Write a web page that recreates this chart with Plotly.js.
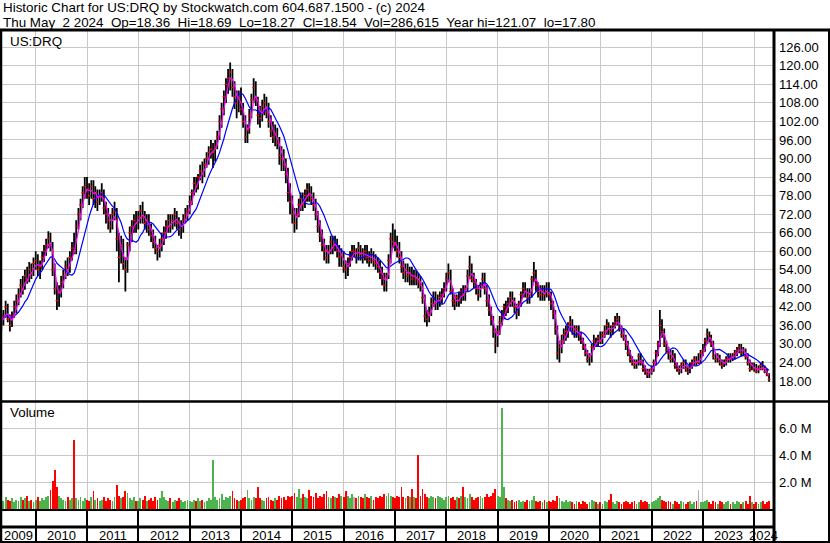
<!DOCTYPE html>
<html><head><meta charset="utf-8">
<script src="https://cdn.plot.ly/plotly-3.0.1.min.js"></script>
<style>html,body{margin:0;padding:0;background:#fff;}#chart{width:830px;height:543px;}</style>
</head><body><div id="chart"></div>
<script>
// ---- data (semi-monthly bars: 1st and 16th of each month, May 2009 .. Apr 2024) ----
const startYear = 2009, startMonth = 5;
const open = [
 36,37,39,42,38,36,39,42,44,46,49,48,52,51,54,53,
 56,57,54,55,58,60,62,64,62,54,48,44,47,50,52,55,54,58,62,60,68,72,75,79,
 81,80,78,81,77,79,76,78,79,74,72,70,68,72,73,64,58,62,56,54,62,66,68,70,
 69,71,73,71,69,70,67,65,63,61,60,62,64,66,68,70,68,70,72,69,67,68,70,72,
 73,76,79,82,81,84,86,85,88,90,92,90,92,94,97,102,106,110,114,116,118,113,110,108,
 110,106,102,97,99,104,109,113,109,104,103,107,108,105,102,99,97,98,95,91,90,88,85,79,
 76,72,69,72,75,77,75,78,80,78,77,75,72,68,65,62,60,58,60,63,61,63,60,58,
 59,55,54,56,58,60,60,58,61,59,58,60,58,57,59,57,56,55,53,51,49,52,57,64,
 63,62,60,58,55,53,54,52,53,51,52,51,50,49,45,39,38,40,43,45,43,44,45,46,
 48,51,53,47,44,43,45,44,47,46,48,52,55,51,50,48,46,49,51,48,44,41,38,34,
 30,34,37,39,42,41,43,45,44,42,40,43,46,48,47,45,46,51,53,49,47,46,47,46,
 48,46,43,40,35,27,29,31,33,34,36,37,34,33,35,33,31,29,27,25,26,29,31,30,
 32,31,33,34,36,35,34,36,37,38,35,33,32,30,27,25,24,23,24,26,24,22,21,20,
 21,22,24,27,30,36,34,30,28,27,25,26,23,22,21,23,24,22,21,23,24,25,24,24,
 27,28,31,33,32,30,26,25,26,24,23,24,25,26,25,26,27,28,29,27,28,26,24,22,
 23,22,21,22,23,22,21,20
];
const high = [
 40,41,44,43,39.5,40.5,44,46,48,51,52,54,55,56.5,56,58,
 60,59,57,60,62,64,66.5,66,63,56,50,49,52,54,57,58,60,63,66,70,74,77,81,84,
 84,82,83,83,81,80,80,82,80,76,74,72,74,76,74,66,65,64,58,63,68,70,72,73,
 73,75,76,73,72,72,69,67,65,62,64,66,68,70,72,72,72,74,73,71,70,72,74,75,
 78,80,84,84,85,88,89,90,92,94,96,95,96,99,104,108,112,116,119,121.07,119,115,112,112,
 113,108,104,101,106,111,116,115,110,107,109,111,110,108,104,102,101,100,97,94,93,90,87,82,
 78,74,74,77,79,79,80,82,82,81,79,77,73,70,67,64,62,62,65,65,65,64,62,61,
 60,57,58,60,62,62,61,63,62,61,62,62,60,61,60,59,58,57,55,53,53,59,66,69,
 67,65,63,60,57,56,56,55,55,54,54,53,52,50,46,41,42,45,47,47,46,47,48,50,
 53,56,54,48,46,46,47,48,49,49,54,58.5,56,53,51,49,50,53,53,49,46,42,39,35,
 36,39,41,43,44,45,47,47,45,43,44,47,50,50,48,48,52,56.5,54,50,49,49,49,50,
 50,47,44,41,36,31,33,35,36,37,39,38,36,36,36,34,32,30,28,27,30,33,32,33,
 34,34,36,38,37,36,37,39,40,39,36,35,33,31,28,26,25,25,27,27,25,23,22,22,
 23,25,28,31,41,38,35,31,29,28,28,27,24,23,24,25,25,23,24,25,26,26,27,28,
 30,32,35,34,33,31,27,27,26.5,25,25,26,27,27,27,28,29,30,30,29,28.5,27,25,24,
 24,23.5,23,24,24.5,23,22,20.5
];
const low = [
 34.5,36,38.5,37,34,35.5,38.5,40,42.5,45,46,47.5,49.5,50,51,52,
 54,52,51,54,56.5,58.5,61,60,52,46,41,42,45,48,51,52,53,57,59,59,67,70,74,77,
 77,75,77,75,74,73,75,76,72,69,67,66,67,70,60,50,56,54,47,53,60,63,66,66,
 67,69,69,67,66,65,63,61,59,57,58,60,62,64,66,66,67,68,67,65,64,66,69,70,
 72,75,78,79,80,83,82,84,87,88,90,87,89,93,96,100,104,108,111,112,110,106,103,105,
 104,100,95,95,98,103,108,107,101,100,102,104,103,100,97,95,94,93,88,86,86,82,76,72,
 69,66,67,71,73,73,74,76,76,75,73,70,66,63,60,57,56,56,59,59,60,58,55,55,
 53,51,52,55,57,58,56,57,57,56,57,56,55,56,55,54,53,51,49,47,47,51,56,61,
 60,58,56,53,51,50,50,49,49,49,49,48,47,43,37,35.6,37,39,42,41,41,42,43,45,
 47,50,46,42,41,42,42,43,44,44,47,51,50,48,46,44,45,48,46,42,39,36,32,27,
 29,33,36,38,39,40,42,42,40,38,39,42,45,45,43,43,45,50,47,45,44,44,44,45,
 44,41,38,33,25,24,27,30,31,32,34,33,32,32,31,30,28,26,24,23,24,28,29,29,
 30,30,32,33,33,32,33,35,36,34,32,31,28,26,24,23,22,22,23,23,21,20,19,19,
 20,21,23,26,29,32,29,27,25,24,24,22,21,20,20.5,22,21,20,20.5,22,23,23,23.5,23.5,
 26,27.5,30,30.5,29,25,24,24,23,22,22.5,23,24,24,24.5,25,26,27,26,26,25,23,21,21.5,
 21,20.5,20.5,21.5,21.5,20.5,19.5,17.8
];
const close = [
 37,39,42,38,36,39,42,44,46,49,48,52,51,54,53,56,
 57,54,55,58,60,62,64,62,54,48,44,47,50,52,55,54,58,61,60,68,72,75,79,81,
 80,78,81,77,79,76,78,79,74,72,70,68,72,73,64,58,62,56,54,62,66,68,70,69,
 71,73,71,69,70,67,65,63,61,60,62,64,66,68,70,68,70,72,69,67,68,70,72,73,
 76,79,82,81,84,86,85,88,90,92,93,92,94,97,102,106,110,114,116,118,113,110,108,110,
 106,102,97,99,104,109,113,109,104,103,107,108,105,102,99,97,98,95,91,90,88,85,79,76,
 72,69,72,75,77,75,78,80,78,77,75,72,68,65,62,60,58,60,63,61,63,60,58,59,
 55,54,56,58,60,60,58,61,59,58,60,58,57,59,57,56,55,53,51,49,52,57,64,63,
 62,60,58,55,53,54,52,53,51,52,51,50,49,45,39,38,40,43,45,43,44,45,46,48,
 51,53,47,44,43,45,44,47,46,48,52,55,51,50,48,46,49,51,48,44,41,38,34,30,
 34,37,39,42,41,43,45,44,42,40,43,46,48,47,45,46,51,53,49,47,46,47,46,48,
 46,43,40,35,27,29,31,33,34,36,37,34,33,35,33,31,29,27,25,26,29,31,30,32,
 31,33,34,36,35,34,36,37,38,35,33,32,30,27,25,24,23,24,26,24,22,21,20,21,
 22,24,27,30,36,34,30,28,27,25,26,23,22,21,23,24,22,21,23,24,25,24,24,27,
 28,31,33,32,30,26,25,26,24,23,24,25,26,25,26,27,28,29,27,28,26,24,22,23,
 22,21,22,23,22,21,20,18.54
];
// volume, millions of shares
const volume = [
 0.8,0.6,0.9,0.7,0.6,0.8,0.5,0.7,0.6,0.9,0.7,0.8,1.0,0.6,0.7,0.5,
 0.7,0.9,0.6,0.8,0.7,0.9,1.0,1.4,2.1,2.9,1.6,1.0,0.8,0.7,0.6,0.9,0.7,0.8,5.1,0.8,0.7,0.9,0.6,0.8,
 0.7,0.6,0.9,1.3,0.7,0.8,0.6,0.7,0.9,0.6,0.8,0.7,0.6,0.9,1.8,1.0,0.8,0.9,1.3,1.2,0.8,0.7,0.9,0.6,
 0.6,0.8,0.7,1.0,0.6,0.7,0.8,0.6,0.9,0.7,0.8,1.3,0.9,0.7,0.6,0.8,0.5,0.7,0.6,0.8,0.7,0.5,0.6,0.7,
 0.6,0.5,0.7,0.6,0.8,0.6,0.7,0.5,0.6,0.8,0.7,3.6,0.9,0.7,0.8,1.1,0.7,0.9,0.8,1.0,1.3,0.8,0.7,0.6,
 0.7,0.8,0.9,1.4,0.8,0.7,0.9,0.8,1.6,0.8,0.7,0.6,0.8,0.9,0.7,0.6,0.8,0.7,1.0,0.8,0.9,0.7,1.0,0.9,
 1.0,1.2,0.9,1.5,0.8,1.1,0.9,0.8,1.4,1.0,0.9,1.2,0.8,1.0,0.9,1.1,1.3,0.9,0.8,1.0,0.9,0.8,1.1,1.0,
 0.9,1.3,1.0,0.8,1.1,0.9,0.8,1.0,0.9,0.8,1.1,0.9,0.8,1.0,0.7,0.9,0.8,1.0,0.9,1.1,1.0,1.2,1.0,0.9,
 0.8,1.0,0.9,1.6,0.9,0.8,1.0,0.9,1.5,0.9,0.8,4.0,1.0,1.5,1.1,0.9,0.8,1.0,0.9,0.8,1.0,0.9,0.8,0.7,
 0.9,1.0,0.8,0.9,0.7,0.9,0.8,1.0,1.6,0.9,0.8,1.1,0.9,0.7,0.8,0.9,1.0,0.8,0.9,1.1,0.9,1.0,1.2,1.5,
 1.0,0.9,7.5,1.6,0.8,0.7,0.6,0.7,0.5,0.6,0.7,0.5,0.6,0.5,0.7,0.6,0.7,1.0,0.6,0.5,0.6,0.5,0.7,0.5,
 0.6,0.5,0.7,0.6,1.0,0.8,0.6,0.5,0.7,0.5,0.6,0.5,0.4,0.6,0.5,0.4,0.6,0.5,0.4,0.5,0.7,0.6,0.5,0.4,
 0.5,0.4,0.6,0.5,0.7,1.1,0.5,0.4,0.6,0.5,0.4,0.5,0.6,0.5,0.4,0.5,0.6,0.4,0.5,0.7,0.5,0.6,0.5,0.4,
 0.5,0.6,0.7,0.8,1.0,0.7,0.6,0.5,0.6,0.5,0.4,0.6,0.5,0.4,0.6,0.5,0.4,0.5,0.6,0.4,0.5,0.6,1.4,0.5,
 0.5,0.6,0.7,0.5,0.4,0.6,0.5,0.4,0.6,0.5,0.4,0.5,0.6,0.4,0.5,0.4,0.6,0.5,0.4,0.5,0.6,0.4,1.0,0.5,
 0.4,0.5,0.4,0.5,0.6,0.4,0.5,0.6
];
const years = ['2009','2010','2011','2012','2013','2014','2015','2016','2017','2018','2019','2020','2021','2022','2023','2024'];
const priceTicks = [18,24,30,36,42,48,54,60,66,72,78,84,90,96,102,108,114,120,126];
const volTicks = [2,4,6];
const volTickText = ['2.0 M','4.0 M','6.0 M'];
const headerLine1 = 'Historic Chart for US:DRQ by Stockwatch.com 604.687.1500 - (c) 2024';
const headerLine2 = 'Thu May  2 2024  Op=18.36  Hi=18.69  Lo=18.27  Cl=18.54  Vol=286,615  Year hi=121.07  lo=17.80';
const symbolLabel = 'US:DRQ';
const volumeLabel = 'Volume';

// ---- build ----
const W = 830, H = 543;
const px = x => x / W, py = y => 1 - y / H;
const dates = close.map((_, i) => {
  const m = (startMonth - 1) + Math.floor(i / 2);
  const yr = startYear + Math.floor(m / 12);
  return yr + '-' + String(m % 12 + 1).padStart(2, '0') + '-' + (i % 2 ? '16' : '01');
});
function movingAverage(vals, n) {
  return vals.map((_, i) => {
    const s = vals.slice(Math.max(0, i - n + 1), i + 1);
    return s.reduce((a, b) => a + b, 0) / s.length;
  });
}
const rangeStart = '2009-05-06', rangeEnd = '2024-05-14';
const yearStarts = years.slice(1).map(y => y + '-01-01');
const volColors = close.map((c, i) => c > open[i] ? '#4db34d' : (c < open[i] ? '#ff0000' : '#b4b4b4'));

const traces = [
  {type:'ohlc', x:dates, open:open, high:high, low:low, close:close, xaxis:'x', yaxis:'y',
   increasing:{line:{color:'#000', width:1.8}}, decreasing:{line:{color:'#000', width:1.8}}, tickwidth:0.3, hoverinfo:'skip'},
  {type:'scatter', mode:'markers', x:dates, y:close, xaxis:'x', yaxis:'y', hoverinfo:'skip',
   marker:{symbol:'line-ew', size:2, line:{color:'#ff0000', width:1.2}}},
  {type:'scatter', mode:'lines', x:dates, y:movingAverage(close, 10), xaxis:'x', yaxis:'y', hoverinfo:'skip',
   line:{color:'#0000ff', width:1.2}},
  {type:'scatter', mode:'lines', x:dates, y:movingAverage(close, 3), xaxis:'x', yaxis:'y', hoverinfo:'skip',
   line:{color:'#ff00ff', width:1.2}},
  {type:'bar', x:dates, y:volume, xaxis:'x', yaxis:'y2', hoverinfo:'skip',
   width:13*86400000, marker:{color:volColors, line:{width:0}}}
];

const yearLabelAnn = years.map(y => {
  const s = Math.max(Date.parse(y + '-01-01'), Date.parse(rangeStart));
  const e = Math.min(Date.parse((+y + 1) + '-01-01'), Date.parse(rangeEnd));
  return {xref:'x', yref:'paper', x:new Date((s + e) / 2).toISOString().slice(0, 10), y:py(535),
          text:y, showarrow:false, xanchor:'center', yanchor:'middle', font:{size:13, color:'#000'}};
});
// keep the double spacing of the original header (non-collapsing spaces)
const nb = s => s.replace(/  /g, '\u00a0\u00a0');
const annotations = [
  {xref:'paper', yref:'paper', x:px(1), y:py(8), text:headerLine1, showarrow:false, xanchor:'left', yanchor:'middle', font:{size:13.4, color:'#000'}},
  {xref:'paper', yref:'paper', x:px(1), y:py(22), text:nb(headerLine2), showarrow:false, xanchor:'left', yanchor:'middle', font:{size:13.4, color:'#000'}},
  {xref:'paper', yref:'paper', x:px(8), y:py(41.5), text:symbolLabel, showarrow:false, xanchor:'left', yanchor:'middle', font:{size:13.4, color:'#000'}},
  {xref:'paper', yref:'paper', x:px(8), y:py(413), text:volumeLabel, showarrow:false, xanchor:'left', yanchor:'middle', font:{size:13.4, color:'#000'}}
].concat(yearLabelAnn);

const line = (x0, y0, x1, y1, w) => ({type:'line', xref:'paper', yref:'paper', x0:px(x0), y0:py(y0), x1:px(x1), y1:py(y1), line:{color:'#000', width:w}});
const shapes = [
  line(0, 30, 830, 30, 3),
  line(1, 30, 1, 543, 2.5),
  line(774, 30, 774, 543, 3),
  line(829, 30, 829, 543, 2),
  line(0, 401.5, 830, 401.5, 2.5),
  line(0, 510, 774, 510, 2),
  line(0, 527, 774, 527, 3),
  line(0, 542, 830, 542, 2)
];

const layout = {
  width:W, height:H, margin:{l:0, r:0, t:0, b:0}, paper_bgcolor:'#fff', plot_bgcolor:'#fff', showlegend:false,
  font:{family:'"Liberation Sans", Arial, sans-serif', size:13, color:'#000'},
  xaxis:{type:'date', domain:[px(2), px(773)], range:[rangeStart, rangeEnd], anchor:'y2',
    tickmode:'array', tickvals:yearStarts, showticklabels:false, ticks:'outside', ticklen:31, tickwidth:2, tickcolor:'#000',
    showgrid:true, gridcolor:'#c8c8c8', gridwidth:1, showline:false, zeroline:false, rangeslider:{visible:false}, fixedrange:true},
  yaxis:{domain:[py(401), py(31)], range:[11.53, 131.27], side:'right', anchor:'x',
    tickmode:'array', tickvals:priceTicks, tickformat:'.2f', ticks:'', ticklabelstandoff:5,
    showgrid:true, gridcolor:'#c8c8c8', gridwidth:1, showline:false, zeroline:false, tickfont:{size:13, color:'#000'}},
  yaxis2:{domain:[py(510), py(402)], range:[-0.074, 7.926], side:'right', anchor:'x',
    tickmode:'array', tickvals:volTicks, ticktext:volTickText, ticks:'', ticklabelstandoff:5,
    showgrid:true, gridcolor:'#c8c8c8', gridwidth:1, showline:false, zeroline:false, tickfont:{size:13, color:'#000'}},
  shapes:shapes, annotations:annotations, bargap:0
};
Plotly.newPlot('chart', traces, layout, {staticPlot:true, displayModeBar:false});
</script></body></html>
